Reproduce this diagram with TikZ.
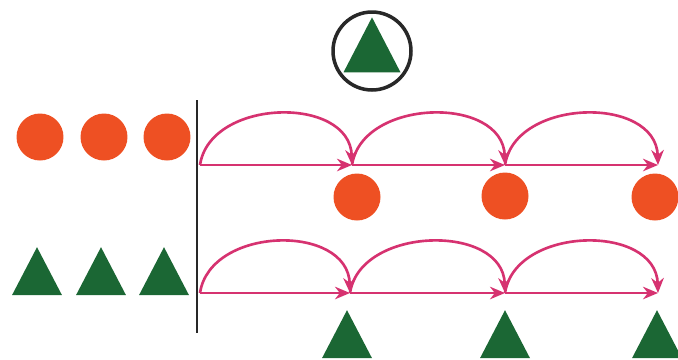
\documentclass[tikz,border=0pt]{standalone}
\usepackage{xcolor}
\usepackage{tikz}
\usetikzlibrary{shapes.geometric, arrows.meta, positioning}
\definecolor{myorange}{RGB}{238,80,35}
\definecolor{mygreen}{RGB}{27,103,52}
\definecolor{mypink}{RGB}{214,50,112}
\definecolor{mydark}{RGB}{40,40,40}
\tikzset{
  dot/.style={circle, fill=myorange, inner sep=0pt, minimum size=0.94cm},
  tri/.style={isosceles triangle, shape border rotate=90,
    isosceles triangle stretches, fill=mygreen, inner sep=0pt,
    minimum width=1.0cm, minimum height=0.96cm},
  bigtri/.style={tri, minimum width=1.14cm, minimum height=1.1cm},
  ring/.style={circle, draw=mydark, line width=2pt, inner sep=0pt,
    minimum size=1.56cm},
  hop/.style={-{Stealth[length=0.3cm, width=0.25cm]}, line width=1.5pt, color=mypink},
  divider/.style={line width=1.1pt, color=mydark}
}

\begin{document}
\begin{tikzpicture}[x=0.02cm, y=-0.02cm]
  \useasboundingbox (0,0) rectangle (678,359);

  % the circled triangle on top
  \node[ring] (key) at (372,51) {};
  \node[bigtri] (keytri) at (372,55) {};

  % starting counters on the left
  \node[dot] (o1) at (40,137) {};
  \node[dot] (o2) at (104,137) {};
  \node[dot] (o3) at (167,137) {};
  \node[tri] (t1) at (37,280) {};
  \node[tri] (t2) at (101,280) {};
  \node[tri] (t3) at (164,280) {};

  \coordinate (top) at (197,100);
  \coordinate (bot) at (197,333);
  \draw[divider] (top) -- (bot);

  % jump points
  \coordinate (p0) at (200,165);
  \coordinate (p1) at (352,165);
  \coordinate (p2) at (505,165);
  \coordinate (p3) at (658,165);
  \coordinate (q0) at (200,293);
  \coordinate (q1) at (350,293);
  \coordinate (q2) at (505,293);
  \coordinate (q3) at (658,293);

  % circles row
  \draw[hop] (p0) -- (p1);
  \draw[hop] (p1) -- (p2);
  \draw[hop] (p2) -- (p3);
  \draw[hop] (p0) .. controls +(10,-67) and +(-2,-70) .. (p1);
  \draw[hop] (p1) .. controls +(10,-67) and +(-2,-70) .. (p2);
  \draw[hop] (p2) .. controls +(10,-67) and +(-2,-70) .. (p3);

  % triangles row
  \draw[hop] (q0) -- (q1);
  \draw[hop] (q1) -- (q2);
  \draw[hop] (q2) -- (q3);
  \draw[hop] (q0) .. controls +(10,-67) and +(-2,-70) .. (q1);
  \draw[hop] (q1) .. controls +(10,-67) and +(-2,-70) .. (q2);
  \draw[hop] (q2) .. controls +(10,-67) and +(-2,-70) .. (q3);

  % results
  \node[dot] (r1) at (357,197) {};
  \node[dot] (r2) at (505,196) {};
  \node[dot] (r3) at (655,197) {};
  \node[tri] (s1) at (347,343) {};
  \node[tri] (s2) at (505,343) {};
  \node[tri] (s3) at (657,343) {};
\end{tikzpicture}
\end{document}
